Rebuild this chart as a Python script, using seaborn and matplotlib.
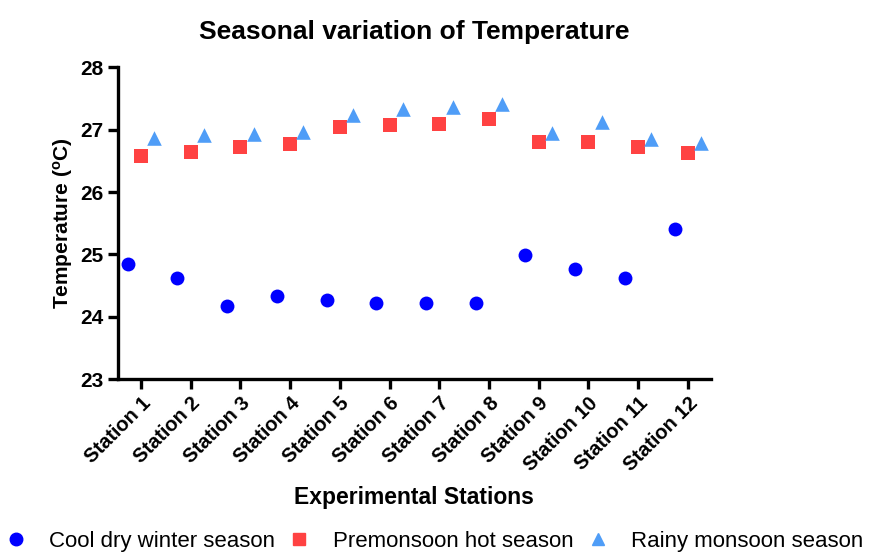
import pandas as pd
import matplotlib.pyplot as plt
import seaborn as sns

# Data
stations = ["Station 1", "Station 2", "Station 3", "Station 4", "Station 5", "Station 6",
            "Station 7", "Station 8", "Station 9", "Station 10", "Station 11", "Station 12"]
seasons = ["Cool dry winter season", "Premonsoon hot season", "Rainy monsoon season"]
winter = [24.84, 24.62, 24.17, 24.33, 24.27, 24.22, 24.22, 24.22, 24.99, 24.76, 24.62, 25.40]
premonsoon = [26.57, 26.64, 26.72, 26.77, 27.04, 27.07, 27.09, 27.17, 26.80, 26.80, 26.72, 26.62]
monsoon = [26.86, 26.91, 26.93, 26.97, 27.23, 27.33, 27.36, 27.41, 26.94, 27.12, 26.85, 26.78]

df = pd.DataFrame({
    "station": stations * 3,
    "season": [seasons[0]] * 12 + [seasons[1]] * 12 + [seasons[2]] * 12,
    "temp": winter + premonsoon + monsoon,
})

colors = {seasons[0]: "#0000FF", seasons[1]: "#FF4242", seasons[2]: "#4F9DF7"}
markers = {seasons[0]: "o", seasons[1]: "s", seasons[2]: "^"}
sizes = {seasons[0]: 10, seasons[1]: 10, seasons[2]: 10.5}

sns.set_style("ticks", {"axes.edgecolor": "black", "text.color": "black",
                        "xtick.color": "black", "ytick.color": "black",
                        "axes.labelcolor": "black"})
plt.rcParams["font.family"] = ["Liberation Sans", "DejaVu Sans"]
plt.rcParams["mathtext.fontset"] = "custom"
plt.rcParams["mathtext.rm"] = "Liberation Sans:bold"
plt.rcParams["mathtext.it"] = "Liberation Sans:bold"

fig = plt.figure(figsize=(8.9, 5.56), dpi=100)
ax = fig.add_axes([0.1326, 0.318, 0.666, 0.561])

for s in seasons:
    sns.stripplot(data=df[df["season"] == s], x="station", y="temp", hue="season",
                  hue_order=seasons, order=stations, dodge=True, jitter=False,
                  palette=colors, marker=markers[s], size=sizes[s],
                  linewidth=0, ax=ax, legend=False)

ax.set_xlim(-0.46, 11.46)
ax.set_ylim(23, 28)
ax.set_yticks([23, 24, 25, 26, 27, 28])
sns.despine(ax=ax)
for side in ["left", "bottom"]:
    ax.spines[side].set_linewidth(2.4)
ax.tick_params(axis="both", width=2.4, length=7, direction="out", colors="black")
plt.setp(ax.get_yticklabels(), fontsize=15, fontweight="bold")
plt.setp(ax.get_xticklabels(), fontsize=14.5, fontweight="bold", rotation=45,
         ha="right", rotation_mode="anchor")

ax.set_title("Seasonal variation of Temperature", fontsize=19, fontweight="bold", pad=20)
ax.set_xlabel("Experimental Stations", fontsize=16.5, fontweight="bold", labelpad=8)
ax.set_ylabel(r"Temperature ($^{o}$C)", fontsize=15, fontweight="bold", labelpad=4)

handles = [plt.Line2D([], [], linestyle="none", marker=markers[s], color=colors[s],
                      markersize=9) for s in seasons]
fig.legend(handles, seasons, loc="lower left", bbox_to_anchor=(-0.01, -0.016), ncol=3,
           frameon=False, fontsize=16, handletextpad=1.0, columnspacing=0.6,
           handlelength=1.0, borderaxespad=0.2)

fig.savefig("out.png", dpi=100)
